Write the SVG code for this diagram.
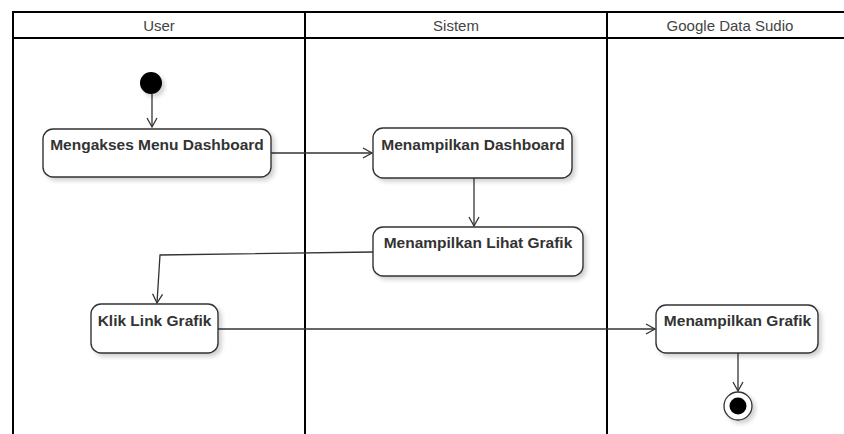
<svg xmlns="http://www.w3.org/2000/svg" width="844" height="434" viewBox="0 0 844 434">
<style>
.lane{fill:none;stroke:#000;stroke-width:2}
.hdr{font-family:"Liberation Sans",Arial,sans-serif;font-size:15px;fill:#444;text-anchor:middle}
.act{fill:#fff;stroke:#333;stroke-width:1.4}
.lbl{font-family:"Liberation Sans",Arial,sans-serif;font-weight:bold;font-size:15.5px;fill:#333;text-anchor:middle}
.edge{fill:none;stroke:#333;stroke-width:1.3}
</style>
<defs>
<filter id="sh" x="-20%" y="-20%" width="140%" height="150%">
<feDropShadow dx="3" dy="3" stdDeviation="2" flood-color="#000" flood-opacity="0.18"/>
</filter>
<marker id="arr" markerWidth="12" markerHeight="12" refX="10" refY="6" orient="auto" markerUnits="userSpaceOnUse">
<path d="M1,1 L10,6 L1,11" fill="none" stroke="#333" stroke-width="1.3"/>
</marker>
</defs>
<rect width="844" height="434" fill="#fff"/>
<g id="lanes">
<path class="lane" d="M13,434 V12 H850 M13,38 H850 M305,12 V434 M607,12 V434"/>
<text class="hdr" x="159" y="31">User</text>
<text class="hdr" x="456" y="31">Sistem</text>
<text class="hdr" x="730" y="31">Google Data Sudio</text>
</g>
<g id="connectors">
<path class="edge" d="M152,94 V127" marker-end="url(#arr)"/>
<path class="edge" d="M271,153 H372" marker-end="url(#arr)"/>
<path class="edge" d="M474,178 V226" marker-end="url(#arr)"/>
<path class="edge" d="M373,252 L160,255 L157,303" marker-end="url(#arr)"/>
<path class="edge" d="M218,329 H655" marker-end="url(#arr)"/>
<path class="edge" d="M738,353 V391" marker-end="url(#arr)"/>
</g>
<g id="start">
<circle cx="151" cy="83" r="11" fill="#000" filter="url(#sh)"/>
</g>
<g id="mengakses">
<rect class="act" x="43" y="129" width="228" height="48" rx="10" filter="url(#sh)"/>
<text class="lbl" x="157" y="149.5">Mengakses Menu Dashboard</text>
</g>
<g id="menampilkan-dashboard">
<rect class="act" x="373" y="128" width="199" height="50" rx="10" filter="url(#sh)"/>
<text class="lbl" x="473" y="149.5">Menampilkan Dashboard</text>
</g>
<g id="menampilkan-lihat-grafik">
<rect class="act" x="373" y="227" width="210" height="49" rx="10" filter="url(#sh)"/>
<text class="lbl" x="478" y="248">Menampilkan Lihat Grafik</text>
</g>
<g id="klik-link-grafik">
<rect class="act" x="91" y="304" width="127" height="49" rx="10" filter="url(#sh)"/>
<text class="lbl" x="154.5" y="326">Klik Link Grafik</text>
</g>
<g id="menampilkan-grafik">
<rect class="act" x="656" y="305" width="162" height="48" rx="10" filter="url(#sh)"/>
<text class="lbl" x="737.5" y="325.5">Menampilkan Grafik</text>
</g>
<g id="end">
<circle cx="738" cy="406" r="14" fill="#fff" stroke="#333" stroke-width="1.3" filter="url(#sh)"/>
<circle cx="738" cy="406" r="8.5" fill="#000"/>
</g>
</svg>
